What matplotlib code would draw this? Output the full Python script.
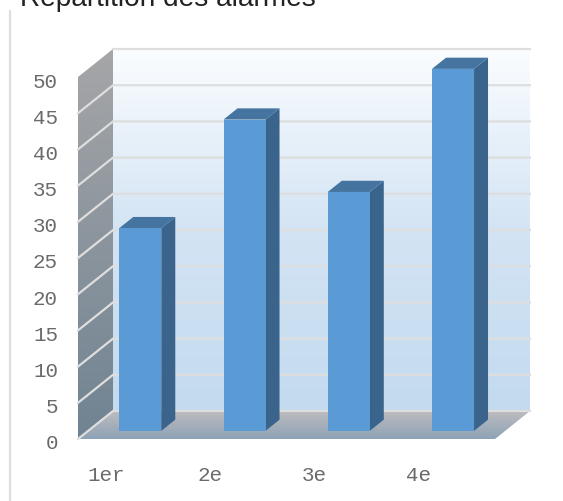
import numpy as np
import matplotlib
matplotlib.use("Agg")
import matplotlib.pyplot as plt
from matplotlib.colors import LinearSegmentedColormap
from matplotlib.patches import Polygon

categories = ["1er", "2e", "3e", "4e"]
values = [28, 43, 33, 50]
y_ticks = [0, 5, 10, 15, 20, 25, 30, 35, 40, 45, 50]
title = "Répartition des alarmes"

W, H = 563, 502

# Scale of the front floor edge in pixels
X0, PX_CAT = 78, 104.25
Y0, PX_VAL = 440, 7.24

# Depth of the box, in data units
DX = 35 / PX_CAT
DY = 28 / PX_VAL
BAR_FRONT, BAR_BACK = 0.29, 0.69
BAR_W = 0.403


def proj(x, v, d=0):
    """Position on the front plane for a point at depth d (0 front, 1 back)."""
    return (x + d * DX, v + d * DY)


def gradient_fill(ax, pts, colors):
    # Vertical gradient clipped to a polygon
    cmap = LinearSegmentedColormap.from_list("g", colors)
    xs = [p[0] for p in pts]
    ys = [p[1] for p in pts]
    im = ax.imshow(np.linspace(0, 1, 256).reshape(-1, 1), cmap=cmap, aspect="auto",
                   extent=(min(xs), max(xs), min(ys), max(ys)), origin="upper", zorder=1)
    poly = Polygon(pts, closed=True, transform=ax.transData, fc="none", ec="none")
    ax.add_patch(poly)
    im.set_clip_path(poly)


def main():
    fig = plt.figure(figsize=(W / 100, H / 100), dpi=100)
    ax = fig.add_axes([0, 0, 1, 1])
    ax.axis("off")

    n = len(categories)
    top = y_ticks[-1]

    # Walls and floor
    gradient_fill(ax, [proj(0, 0, 1), proj(n, 0, 1), proj(n, top, 1), proj(0, top, 1)],
                  ["#fbfdff", "#d3e4f4", "#c3daef"])
    gradient_fill(ax, [proj(0, 0), proj(0, 0, 1), proj(0, top, 1), proj(0, top)],
                  ["#a6a6a8", "#708392"])
    gradient_fill(ax, [proj(0, 0), proj(n, 0), proj(n, 0, 1), proj(0, 0, 1)],
                  ["#bcbcbe", "#8ea2b6"])

    # Gridlines on back wall and side wall
    grid = "#dedede"
    for t in y_ticks:
        x1, y1 = proj(0, t)
        x2, y2 = proj(0, t, 1)
        x3, y3 = proj(n, t, 1)
        if t == top:
            # the top edge of the side wall has no line
            ax.plot([x2, x3], [y2, y3], color=grid, lw=1.6, zorder=2)
        else:
            ax.plot([x1, x2, x3], [y1, y2, y3], color=grid, lw=1.6, zorder=2,
                    solid_joinstyle="miter")

    # Bars
    for i, v in enumerate(values):
        xl = i + 0.5 - BAR_W / 2
        xr = xl + BAR_W
        front = [proj(xl, 0, BAR_FRONT), proj(xr, 0, BAR_FRONT),
                 proj(xr, v, BAR_FRONT), proj(xl, v, BAR_FRONT)]
        side = [proj(xr, 0, BAR_FRONT), proj(xr, 0, BAR_BACK),
                proj(xr, v, BAR_BACK), proj(xr, v, BAR_FRONT)]
        lid = [proj(xl, v, BAR_FRONT), proj(xr, v, BAR_FRONT),
               proj(xr, v, BAR_BACK), proj(xl, v, BAR_BACK)]
        ax.add_patch(Polygon(side, fc="#3a648c", ec="none", zorder=3))
        ax.add_patch(Polygon(lid, fc="#44749f", ec="none", zorder=3))
        ax.add_patch(Polygon(front, fc="#5b9bd5", ec="none", zorder=4))

    ax.set_xlim((0 - X0) / PX_CAT, (W - X0) / PX_CAT)
    ax.set_ylim((Y0 - H) / PX_VAL, Y0 / PX_VAL)

    # Tick labels
    for t in y_ticks:
        ax.annotate(str(t), xy=(0, t), xytext=(-20, -4), textcoords="offset pixels",
                    ha="right", va="center", family="Liberation Mono", fontsize=15,
                    color="#6a6a6a")
    for i, c in enumerate(categories):
        ax.annotate(c, xy=(i + 0.27, 0), xytext=(0, -36), textcoords="offset pixels",
                    ha="center", va="center", family="Liberation Mono", fontsize=15,
                    color="#6a6a6a")

    # Frame line on the left and cut off title
    fig.add_artist(plt.Line2D([9.5 / W, 9.5 / W], [0, 1 - 12 / H], color="#dedede", lw=1.6))
    fig.text(20 / W, 1 - 6 / H, title, family="Liberation Sans", fontsize=20.2,
             color="#222222", ha="left", va="baseline")

    fig.savefig("out.png", dpi=100)


if __name__ == "__main__":
    main()
